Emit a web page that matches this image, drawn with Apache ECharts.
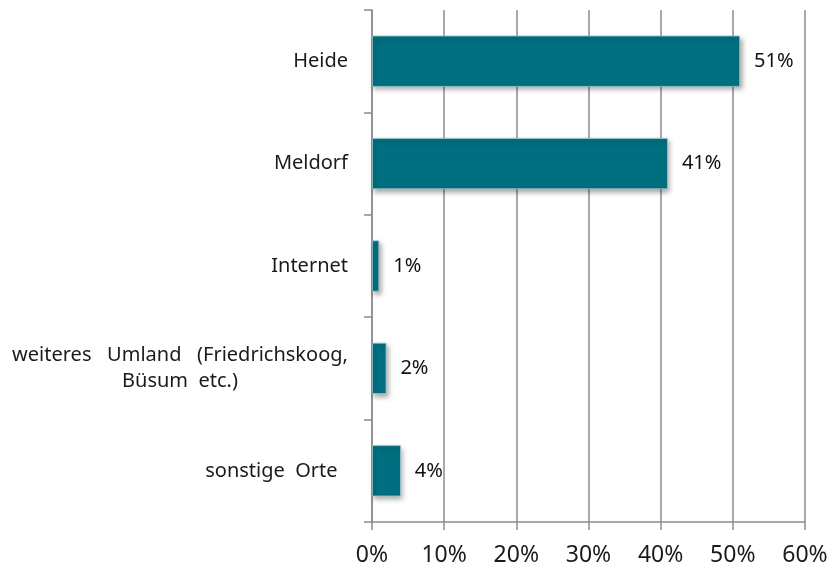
<!DOCTYPE html>
<html>
<head>
<meta charset="utf-8">
<script src="https://cdn.jsdelivr.net/npm/echarts@6/dist/echarts.min.js"></script>
<style>
  html, body { margin: 0; padding: 0; background: #fff; }
  #chart { width: 832px; height: 568px; }
</style>
</head>
<body>
<div id="chart"></div>
<script>
// Locations, top to bottom, and their share in percent
const categories = [
  'Heide',
  'Meldorf',
  'Internet',
  'weiteres   Umland   (Friedrichskoog,\nBüsum  etc.)',
  'sonstige  Orte  '
];
const shares = [51, 41, 1, 2, 4];
const tickValues = [0, 10, 20, 30, 40, 50, 60];

const FONT = '"Noto Sans", sans-serif';
const GREY = '#8c8c8c';
const LABEL_SIZE = 20;

// Width of the widest line of a wrapped label, so its lines can be centred
// within a block that stays right-aligned against the axis
function widestLine(text) {
  const ctx = document.createElement('canvas').getContext('2d');
  ctx.font = LABEL_SIZE + 'px ' + FONT;
  return Math.ceil(Math.max(...text.split('\n').map(l => ctx.measureText(l).width)));
}

const chart = echarts.init(document.getElementById('chart'), null, { renderer: 'canvas' });

const wrapped = categories.find(c => c.indexOf('\n') >= 0);

chart.setOption({
  animation: false,
  backgroundColor: '#ffffff',
  grid: { left: 372, right: 27, top: 10, bottom: 46, containLabel: false },
  xAxis: {
    type: 'value',
    min: tickValues[0],
    max: tickValues[tickValues.length - 1],
    interval: 10,
    axisLine: { show: true, lineStyle: { color: GREY, width: 1.5 } },
    axisTick: { show: true, length: 8, lineStyle: { color: GREY, width: 1.5 } },
    splitLine: { show: true, lineStyle: { color: GREY, width: 1.5 } },
    axisLabel: {
      formatter: v => v + '%',
      color: '#1a1a1a',
      fontFamily: FONT,
      fontSize: 23,
      margin: 22
    }
  },
  yAxis: {
    type: 'category',
    inverse: true,
    data: categories,
    axisLine: { show: true, lineStyle: { color: GREY, width: 1.5 } },
    axisTick: { show: true, length: 8, lineStyle: { color: GREY, width: 1.5 } },
    axisLabel: {
      color: '#1a1a1a',
      fontFamily: FONT,
      fontSize: LABEL_SIZE,
      margin: 24,
      lineHeight: 26,
      formatter: v => v.indexOf('\n') >= 0 ? '{w|' + v + '}' : v,
      rich: {
        w: {
          width: widestLine(wrapped),
          align: 'center',
          fontFamily: FONT,
          fontSize: LABEL_SIZE,
          lineHeight: 26,
          color: '#1a1a1a'
        }
      }
    }
  },
  series: [{
    type: 'bar',
    data: shares,
    barWidth: '50%',
    itemStyle: {
      color: '#006f80',
      borderColor: '#9fc7cd',
      borderWidth: 0.8,
      shadowColor: 'rgba(0,0,0,0.35)',
      shadowBlur: 5,
      shadowOffsetX: 2,
      shadowOffsetY: 3
    },
    label: {
      show: true,
      position: 'right',
      distance: 14,
      formatter: p => p.value + '%',
      color: '#111',
      fontFamily: FONT,
      fontSize: LABEL_SIZE
    }
  }]
});
</script>
</body>
</html>
